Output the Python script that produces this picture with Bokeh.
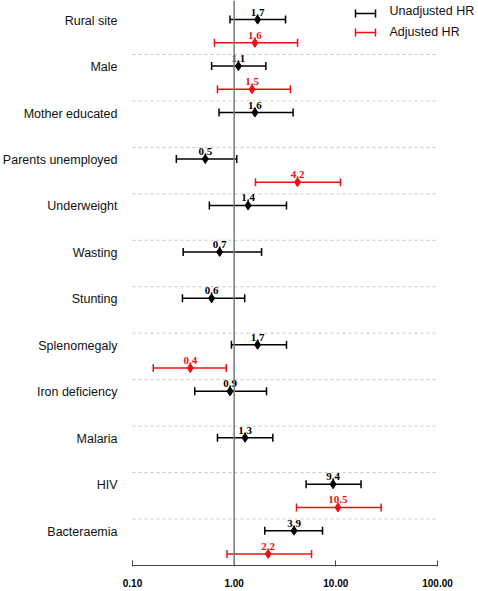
import math
from bokeh.plotting import figure
from bokeh.models import Range1d, ColumnDataSource, Whisker, TeeHead, FixedTicker, Span
from bokeh.core.properties import value
from bokeh.embed import file_html
from bokeh.resources import INLINE

# ---------------- data ----------------
categories = ["Rural site", "Male", "Mother educated", "Parents unemployed", "Underweight",
              "Wasting", "Stunting", "Splenomegaly", "Iron deficiency", "Malaria", "HIV", "Bacteraemia"]

unadj_hr = [1.7, 1.1, 1.6, 0.52, 1.37, 0.72, 0.6, 1.7, 0.91, 1.28, 9.4, 3.88]
unadj_lo = [0.91, 0.60, 0.71, 0.27, 0.57, 0.315, 0.31, 0.94, 0.41, 0.685, 5.1, 2.0]
unadj_hi = [3.2, 2.05, 3.8, 1.06, 3.27, 1.86, 1.27, 3.27, 2.08, 2.4, 17.7, 7.4]

adj_categories = ["Rural site", "Male", "Parents unemployed", "Splenomegaly", "HIV", "Bacteraemia"]
adj_hr = [1.6, 1.5, 4.2, 0.37, 10.5, 2.16]
adj_lo = [0.64, 0.685, 1.62, 0.16, 4.1, 0.85]
adj_hi = [4.2, 3.58, 11.1, 0.835, 27.9, 5.77]

x_ticks = [0.1, 1, 10, 100]
x_tick_labels = ["0.10", "1.00", "10.00", "100.00"]
legend_labels = ["Unadjusted HR", "Adjusted HR"]

BLACK = "#000000"
RED = "#ee1111"

# ---------------- layout ----------------
W, H = 478, 591
PX_LEFT_01 = 132          # frame px of x = 0.1
PX_PER_DEC = 101.67
x_start = 10 ** (-1 - PX_LEFT_01 / PX_PER_DEC)
x_end = 10 ** (-1 + (W - PX_LEFT_01) / PX_PER_DEC)

def px_to_x(px):
    return 10 ** (-1 + (px - PX_LEFT_01) / PX_PER_DEC)

BOTTOM = 26
FRAME_H = H - BOTTOM
NB = len(categories)
TOP_PAD = 7.5             # px above first band
band_px = (FRAME_H - TOP_PAD) / NB
y_top = -TOP_PAD / band_px

def py_to_y(py):
    return (py - TOP_PAD) / band_px

p = figure(width=W, height=H, x_axis_type="log", output_backend="svg",
           toolbar_location=None, x_range=Range1d(x_start, x_end),
           y_range=Range1d(NB, y_top), y_axis_location=None,
           min_border_left=0, min_border_right=0, min_border_top=0,
           min_border_bottom=BOTTOM)
p.outline_line_color = None
p.grid.visible = False
p.background_fill_color = "white"

# x axis
ax = p.xaxis[0]
ax.ticker = FixedTicker(ticks=x_ticks)
ax.major_label_overrides = {t: l for t, l in zip(x_ticks, x_tick_labels)}
ax.bounds = (x_ticks[0], x_ticks[-1])
ax.minor_tick_line_color = None
ax.major_tick_in = 5
ax.major_tick_out = 1
ax.axis_line_color = "#444444"
ax.major_tick_line_color = "#444444"
ax.major_label_text_font = "Liberation Sans"
ax.major_label_text_font_style = "bold"
ax.major_label_text_font_size = "10px"
ax.major_label_text_color = "#000000"
ax.major_label_standoff = 12

# separators
sep_y = list(range(1, NB))
p.segment(x0=[x_ticks[0]] * len(sep_y), x1=[x_ticks[-1]] * len(sep_y), y0=sep_y, y1=sep_y,
          line_color="#c8c8c8", line_width=1, line_dash="3 3")

# reference line at 1
p.add_layout(Span(location=1, dimension="height", line_color="#777777", line_width=1.5))

idx = {c: i for i, c in enumerate(categories)}
uy = [idx[c] + 0.25 for c in categories]
ay = [idx[c] + 0.75 for c in adj_categories]

def series(hr, lo, hi, ys, color):
    src = ColumnDataSource(dict(hr=hr, lo=lo, hi=hi, y=ys,
                                lab=[f"{v:.1f}" for v in hr]))
    w = Whisker(source=src, base="y", lower="lo", upper="hi", dimension="width",
                line_color=color, line_width=1.5,
                lower_head=TeeHead(size=8, line_color=color, line_width=1.5),
                upper_head=TeeHead(size=8, line_color=color, line_width=1.5))
    p.add_layout(w)
    p.scatter(x="hr", y="y", source=src, marker="diamond", size=9,
              fill_color=color, line_color=color)
    p.text(x="hr", y="y", text="lab", source=src, text_align="center",
           text_baseline="bottom", y_offset=-4, text_color=color,
           text_font=value("Liberation Serif"), text_font_style="bold",
           text_font_size="11px")

series(unadj_hr, unadj_lo, unadj_hi, uy, BLACK)
series(adj_hr, adj_lo, adj_hi, ay, RED)

# category labels
p.text(x=[x_ticks[0]] * NB, y=uy, text=categories, text_align="right",
       text_baseline="middle", x_offset=-15, y_offset=1, text_color="#111111",
       text_font=value("Liberation Sans"), text_font_size="12.5px")

# legend (manual)
leg_colors = [BLACK, RED]
leg_icon_py = [13, 32]
leg_text_py = [10, 31]
lx0, lx1, ltx = px_to_x(355), px_to_x(375), px_to_x(389)
for c, ipy, tpy, lab in zip(leg_colors, leg_icon_py, leg_text_py, legend_labels):
    src = ColumnDataSource(dict(y=[py_to_y(ipy)], lo=[lx0], hi=[lx1]))
    p.add_layout(Whisker(source=src, base="y", lower="lo", upper="hi", dimension="width",
                         line_color=c, line_width=1.5,
                         lower_head=TeeHead(size=8, line_color=c, line_width=1.5),
                         upper_head=TeeHead(size=8, line_color=c, line_width=1.5)))
    p.text(x=[ltx], y=[py_to_y(tpy)], text=[lab], text_align="left",
           text_baseline="middle", text_color="#111111",
           text_font=value("Liberation Sans"), text_font_size="12.5px")

open("out.html", "w").write(file_html(p, INLINE))
